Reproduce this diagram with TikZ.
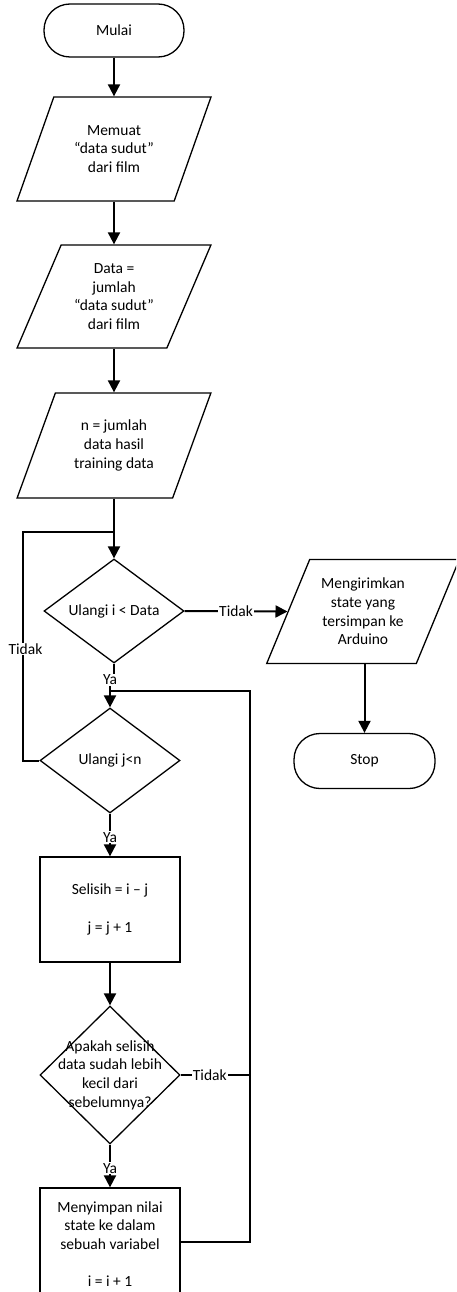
\documentclass[tikz,border=0pt]{standalone}
\usepackage{fontspec}
\setmainfont{Carlito}
\usetikzlibrary{shapes.geometric,arrows.meta}
\begin{document}
\begin{tikzpicture}[x=1pt,y=-1pt,
  every node/.style={font=\fontsize{15.5}{18.6}\selectfont, align=center},
  shapeline/.style={draw, line width=1.3pt},
  term/.style={shapeline, rounded corners=26pt, minimum width=140pt, minimum height=53pt, inner sep=0pt},
  para/.style={shapeline, trapezium, trapezium left angle=63.43, trapezium right angle=116.57,
               trapezium stretches=true, minimum width=194pt, minimum height=104pt, inner sep=2pt},
  dia/.style={shapeline, diamond, minimum width=140pt, inner sep=1pt},
  procbox/.style={shapeline, rectangle, minimum width=140pt, inner sep=0pt},
  conn/.style={line width=2pt},
  arr/.style={conn, -{Triangle[length=12pt,width=12pt]}},
  lbl/.style={fill=white, inner sep=1pt}
]
\useasboundingbox (0,0) rectangle (456,1292);
\clip (0,0) rectangle (456,1292);

% shapes
\node[term] (start) at (114,30.5) {Mulai};
\node[para] (p1) at (114,149) {Memuat\\“data sudut”\\dari film};
\node[para, minimum height=103pt] (p2) at (114,296.5) {Data =\\jumlah\\“data sudut”\\dari film};
\node[para, minimum height=105pt] (p3) at (114,445.5) {n = jumlah\\data hasil\\training data};
\node[dia, minimum height=104pt, label=center:{Ulangi i < Data}] (d1) at (114,611) {};
\node[para, minimum width=193pt] (p4) at (363,611.5) {Mengirimkan\\state yang\\tersimpan ke\\Arduino};
\node[term, minimum width=141pt, minimum height=55pt] (stop) at (364.5,761) {Stop};
\node[dia, minimum height=105pt, label=center:{Ulangi j<n}] (d2) at (110,760.5) {};
\node[procbox, minimum height=105pt] (b1) at (110,909.5) {Selisih = i – j\\[18.6pt]j = j + 1};
\node[dia, minimum height=138pt, label=center:{Apakah selisih\\data sudah lebih\\kecil dari\\sebelumnya?}] (d3) at (110,1075) {};
\node[procbox, minimum height=112pt] (b2) at (110,1244) {Menyimpan nilai\\state ke dalam\\sebuah variabel\\[18.6pt]i = i + 1};

% helper coordinates
\coordinate (j1) at (114,532);
\coordinate (loopL) at (23,532);
\coordinate (retR) at (250,691);
\coordinate (jn) at (110,691);

% connectors
\draw[arr] (start.south) -- (start.south |- p1.top side);
\draw[arr] (p1.center |- p1.bottom side) -- (p1.center |- p2.top side);
\draw[arr] (p2.center |- p2.bottom side) -- (p2.center |- p3.top side);
\draw[arr] (p3.center |- p3.bottom side) -- (d1.north);
\draw[conn] (d2.west) -| (loopL) -- (j1);
\node[lbl] (tidakL) at (25.5,649) {Tidak};
\draw[arr] (d1.east) -- node[lbl] (tidakA) {Tidak} (p4.left side);
\draw[arr] (stop.north |- p4.bottom side) -- (stop.north);
\node[inner sep=1pt] (yaA) at (110,680) {Ya};
\draw[conn] (d1.south) -- (d1.south |- yaA.north);
\draw[arr] (jn |- yaA.south) -- (d2.north);
\draw[conn] (b2.east |- 0,1242) -| (retR) -- (jn);
\draw[arr] (d2.south) -- node[lbl, pos=0.55] (yaB) {Ya} (b1.north);
\draw[arr] (b1.south) -- (d3.north);
\draw[conn] (d3.east) -- node[lbl, pos=0.42] (tidakB) {Tidak} (d3.east -| retR);
\draw[arr] (d3.south) -- node[lbl, pos=0.55] (yaC) {Ya} (b2.north);
\end{tikzpicture}
\end{document}
